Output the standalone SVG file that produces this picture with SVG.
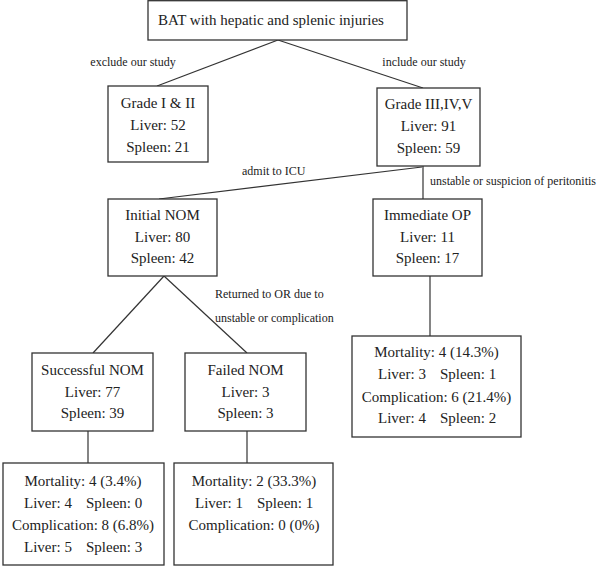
<svg xmlns="http://www.w3.org/2000/svg" width="600" height="566" viewBox="0 0 600 566">
<style>
.box{fill:#fff;stroke:#333;stroke-width:1.3}
.ln{stroke:#333;stroke-width:1.2;fill:none}
text{font-family:"Liberation Serif","Times New Roman",serif;fill:#222}
.t{font-size:15px;text-anchor:middle}
.ts{font-size:15px}
.lb{font-size:12px}
</style>
<rect width="600" height="566" fill="#fff"/>
<g id="connectors">
<line class="ln" x1="278" y1="40" x2="157" y2="86"/>
<line class="ln" x1="278" y1="40" x2="423" y2="88"/>
<line class="ln" x1="422" y1="167" x2="159" y2="199"/>
<line class="ln" x1="423" y1="166" x2="423" y2="199"/>
<line class="ln" x1="430" y1="276" x2="430" y2="336"/>
<line class="ln" x1="164" y1="276" x2="93" y2="353"/>
<line class="ln" x1="164" y1="276" x2="247" y2="353"/>
<line class="ln" x1="88" y1="431" x2="88" y2="463"/>
<line class="ln" x1="247" y1="431" x2="247" y2="463"/>
<text class="lb" x="133" y="66" text-anchor="middle">exclude our study</text>
<text class="lb" x="424" y="66" text-anchor="middle">include our study</text>
<text class="lb" x="242" y="175">admit to ICU</text>
<text class="lb" x="430" y="185">unstable or suspicion of peritonitis</text>
<text class="lb" x="215" y="298">Returned to OR due to</text>
<text class="lb" x="215" y="322">unstable or complication</text>
</g>
<g id="root">
<rect class="box" x="148" y="0.7" width="259" height="39.3"/>
<text class="ts" x="158" y="25">BAT with hepatic and splenic injuries</text>
</g>
<g id="grade12">
<rect class="box" x="108" y="86" width="100" height="76"/>
<text class="t" x="158" y="108">Grade I &amp; II</text>
<text class="t" x="158" y="130">Liver: 52</text>
<text class="t" x="158" y="152">Spleen: 21</text>
</g>
<g id="grade345">
<rect class="box" x="377" y="88" width="103" height="78"/>
<text class="t" x="428.5" y="109">Grade III,IV,V</text>
<text class="t" x="428.5" y="131">Liver: 91</text>
<text class="t" x="428.5" y="153">Spleen: 59</text>
</g>
<g id="initialNOM">
<rect class="box" x="108" y="199" width="109" height="77"/>
<text class="t" x="162.5" y="220">Initial NOM</text>
<text class="t" x="162.5" y="242">Liver: 80</text>
<text class="t" x="162.5" y="263">Spleen: 42</text>
</g>
<g id="immediateOP">
<rect class="box" x="373" y="199" width="109" height="77"/>
<text class="t" x="427.5" y="220">Immediate OP</text>
<text class="t" x="427.5" y="242">Liver: 11</text>
<text class="t" x="427.5" y="263">Spleen: 17</text>
</g>
<g id="opOutcome">
<rect class="box" x="352" y="336" width="169" height="101"/>
<text class="t" x="436.5" y="357">Mortality: 4 (14.3%)</text>
<text class="ts" y="379"><tspan x="378">Liver: 3</tspan><tspan x="440">Spleen: 1</tspan></text>
<text class="t" x="436.5" y="402">Complication: 6 (21.4%)</text>
<text class="ts" y="423"><tspan x="378">Liver: 4</tspan><tspan x="440">Spleen: 2</tspan></text>
</g>
<g id="successNOM">
<rect class="box" x="32" y="353" width="121" height="78"/>
<text class="t" x="92.5" y="375">Successful NOM</text>
<text class="t" x="92.5" y="397">Liver: 77</text>
<text class="t" x="92.5" y="418">Spleen: 39</text>
</g>
<g id="failedNOM">
<rect class="box" x="185" y="353" width="121" height="78"/>
<text class="t" x="245.5" y="375">Failed NOM</text>
<text class="t" x="245.5" y="397">Liver: 3</text>
<text class="t" x="245.5" y="418">Spleen: 3</text>
</g>
<g id="successOutcome">
<rect class="box" x="3" y="463" width="161" height="102"/>
<text class="t" x="83" y="486">Mortality: 4 (3.4%)</text>
<text class="ts" y="508"><tspan x="24">Liver: 4</tspan><tspan x="86">Spleen: 0</tspan></text>
<text class="t" x="83" y="530">Complication: 8 (6.8%)</text>
<text class="ts" y="552"><tspan x="24">Liver: 5</tspan><tspan x="86">Spleen: 3</tspan></text>
</g>
<g id="failedOutcome">
<rect class="box" x="174" y="463" width="159" height="102"/>
<text class="t" x="254" y="486">Mortality: 2 (33.3%)</text>
<text class="ts" y="508"><tspan x="195">Liver: 1</tspan><tspan x="257">Spleen: 1</tspan></text>
<text class="t" x="254" y="530">Complication: 0 (0%)</text>
</g>
</svg>
